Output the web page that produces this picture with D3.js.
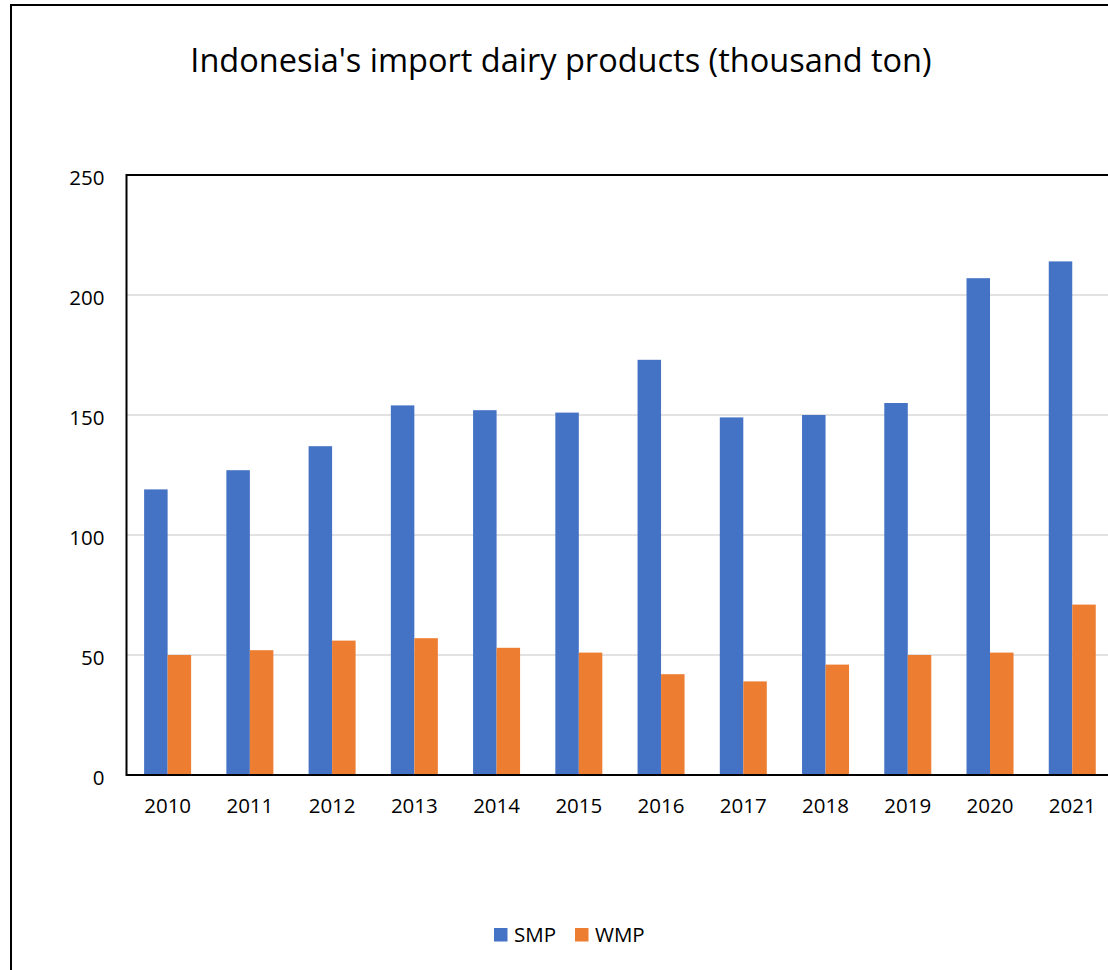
<!DOCTYPE html>
<html>
<head>
<meta charset="utf-8">
<script src="https://cdn.jsdelivr.net/npm/d3@7"></script>
<style>
  body { margin: 0; background: #fff; }
  svg { display: block; font-family: 'Open Sans', sans-serif; }
</style>
</head>
<body>
<svg id="chart"></svg>
<script>
// chart data
var years = ['2010', '2011', '2012', '2013', '2014', '2015', '2016', '2017', '2018', '2019', '2020', '2021']
var smp = [119, 127, 137, 154, 152, 151, 173, 149, 150, 155, 207, 214]
var wmp = [50, 52, 56, 57, 53, 51, 42, 39, 46, 50, 51, 71]
var seriesNames = ['SMP', 'WMP']
var seriesColors = ['#4472C4', '#ED7D31']
var yTicks = [0, 50, 100, 150, 200, 250]

var svgWidth = 1108, svgHeight = 970
var margin = { top: 175, left: 126.5, bottom: 195 }
var plotWidth = 12 * 82.24
var height = svgHeight - margin.top - margin.bottom

var svg = d3.select('#chart')
    .attr('width', svgWidth)
    .attr('height', svgHeight)

// outer chart frame (runs off the right/bottom edge like the screenshot)
svg.append('rect')
    .attr('x', 11).attr('y', 5)
    .attr('width', 1200).attr('height', 1000)
    .attr('fill', 'none')
    .attr('stroke', '#000')
    .attr('stroke-width', 2)

svg.append('text')
    .attr('x', 561)
    .attr('y', 72)
    .attr('text-anchor', 'middle')
    .attr('font-size', 32.5)
    .attr('fill', '#000')
    .text("Indonesia's import dairy products (thousand ton)")

var g = svg.append('g')
    .attr('transform', 'translate(' + margin.left + ',' + margin.top + ')')

var x0 = d3.scaleBand()
    .domain(years)
    .range([0, plotWidth])
    .paddingInner(0.75 / 1.75)
    .paddingOuter(0.75 / 1.75 / 2)

var x1 = d3.scaleBand()
    .domain(seriesNames)
    .range([0, x0.bandwidth()])

var y = d3.scaleLinear()
    .domain([0, 250])
    .range([height, 0])

// gridlines
g.append('g')
    .selectAll('line')
    .data(yTicks.slice(1, -1))
    .join('line')
    .attr('x1', 0).attr('x2', plotWidth)
    .attr('y1', function (d) { return y(d) })
    .attr('y2', function (d) { return y(d) })
    .attr('stroke', '#d9d9d9')
    .attr('stroke-width', 1.5)

// y axis labels
var yAxis = g.append('g')
    .call(d3.axisLeft(y).tickValues(yTicks).tickSize(0).tickPadding(22))
yAxis.select('.domain').remove()
yAxis.selectAll('text')
    .attr('font-size', 20.5)
    .attr('font-family', "'Open Sans', sans-serif")
    .attr('fill', '#000')
    .attr('dy', '0.45em')

// x axis labels
var xAxis = g.append('g')
    .attr('transform', 'translate(0,' + height + ')')
    .call(d3.axisBottom(x0).tickSize(0).tickPadding(23))
xAxis.select('.domain').remove()
xAxis.selectAll('text')
    .attr('font-size', 20.5)
    .attr('font-family', "'Open Sans', sans-serif")
    .attr('fill', '#000')

// bars
var rows = years.map(function (yr, i) {
    return { year: yr, values: [smp[i], wmp[i]] }
})

g.append('g')
    .selectAll('g')
    .data(rows)
    .join('g')
    .attr('transform', function (d) { return 'translate(' + x0(d.year) + ',0)' })
    .selectAll('rect')
    .data(function (d) {
        return d.values.map(function (v, k) { return { key: seriesNames[k], value: v, k: k } })
    })
    .join('rect')
    .attr('x', function (d) { return x1(d.key) })
    .attr('y', function (d) { return y(d.value) })
    .attr('width', x1.bandwidth())
    .attr('height', function (d) { return height - y(d.value) })
    .attr('fill', function (d) { return seriesColors[d.k] })

// plot frame: top, left, bottom
g.append('rect')
    .attr('x', 0).attr('y', 0)
    .attr('width', plotWidth).attr('height', height)
    .attr('fill', 'none')
    .attr('stroke', '#000')
    .attr('stroke-width', 2)

// legend
var legend = svg.append('g')
    .attr('transform', 'translate(494,928)')
var legendX = [0, 81]
seriesNames.forEach(function (name, k) {
    var item = legend.append('g').attr('transform', 'translate(' + legendX[k] + ',0)')
    item.append('rect')
        .attr('width', 13.5).attr('height', 13.5)
        .attr('fill', seriesColors[k])
    item.append('text')
        .attr('x', 20)
        .attr('y', 14)
        .attr('font-size', 20.5)
        .attr('fill', '#000')
        .text(name)
})
</script>
</body>
</html>
